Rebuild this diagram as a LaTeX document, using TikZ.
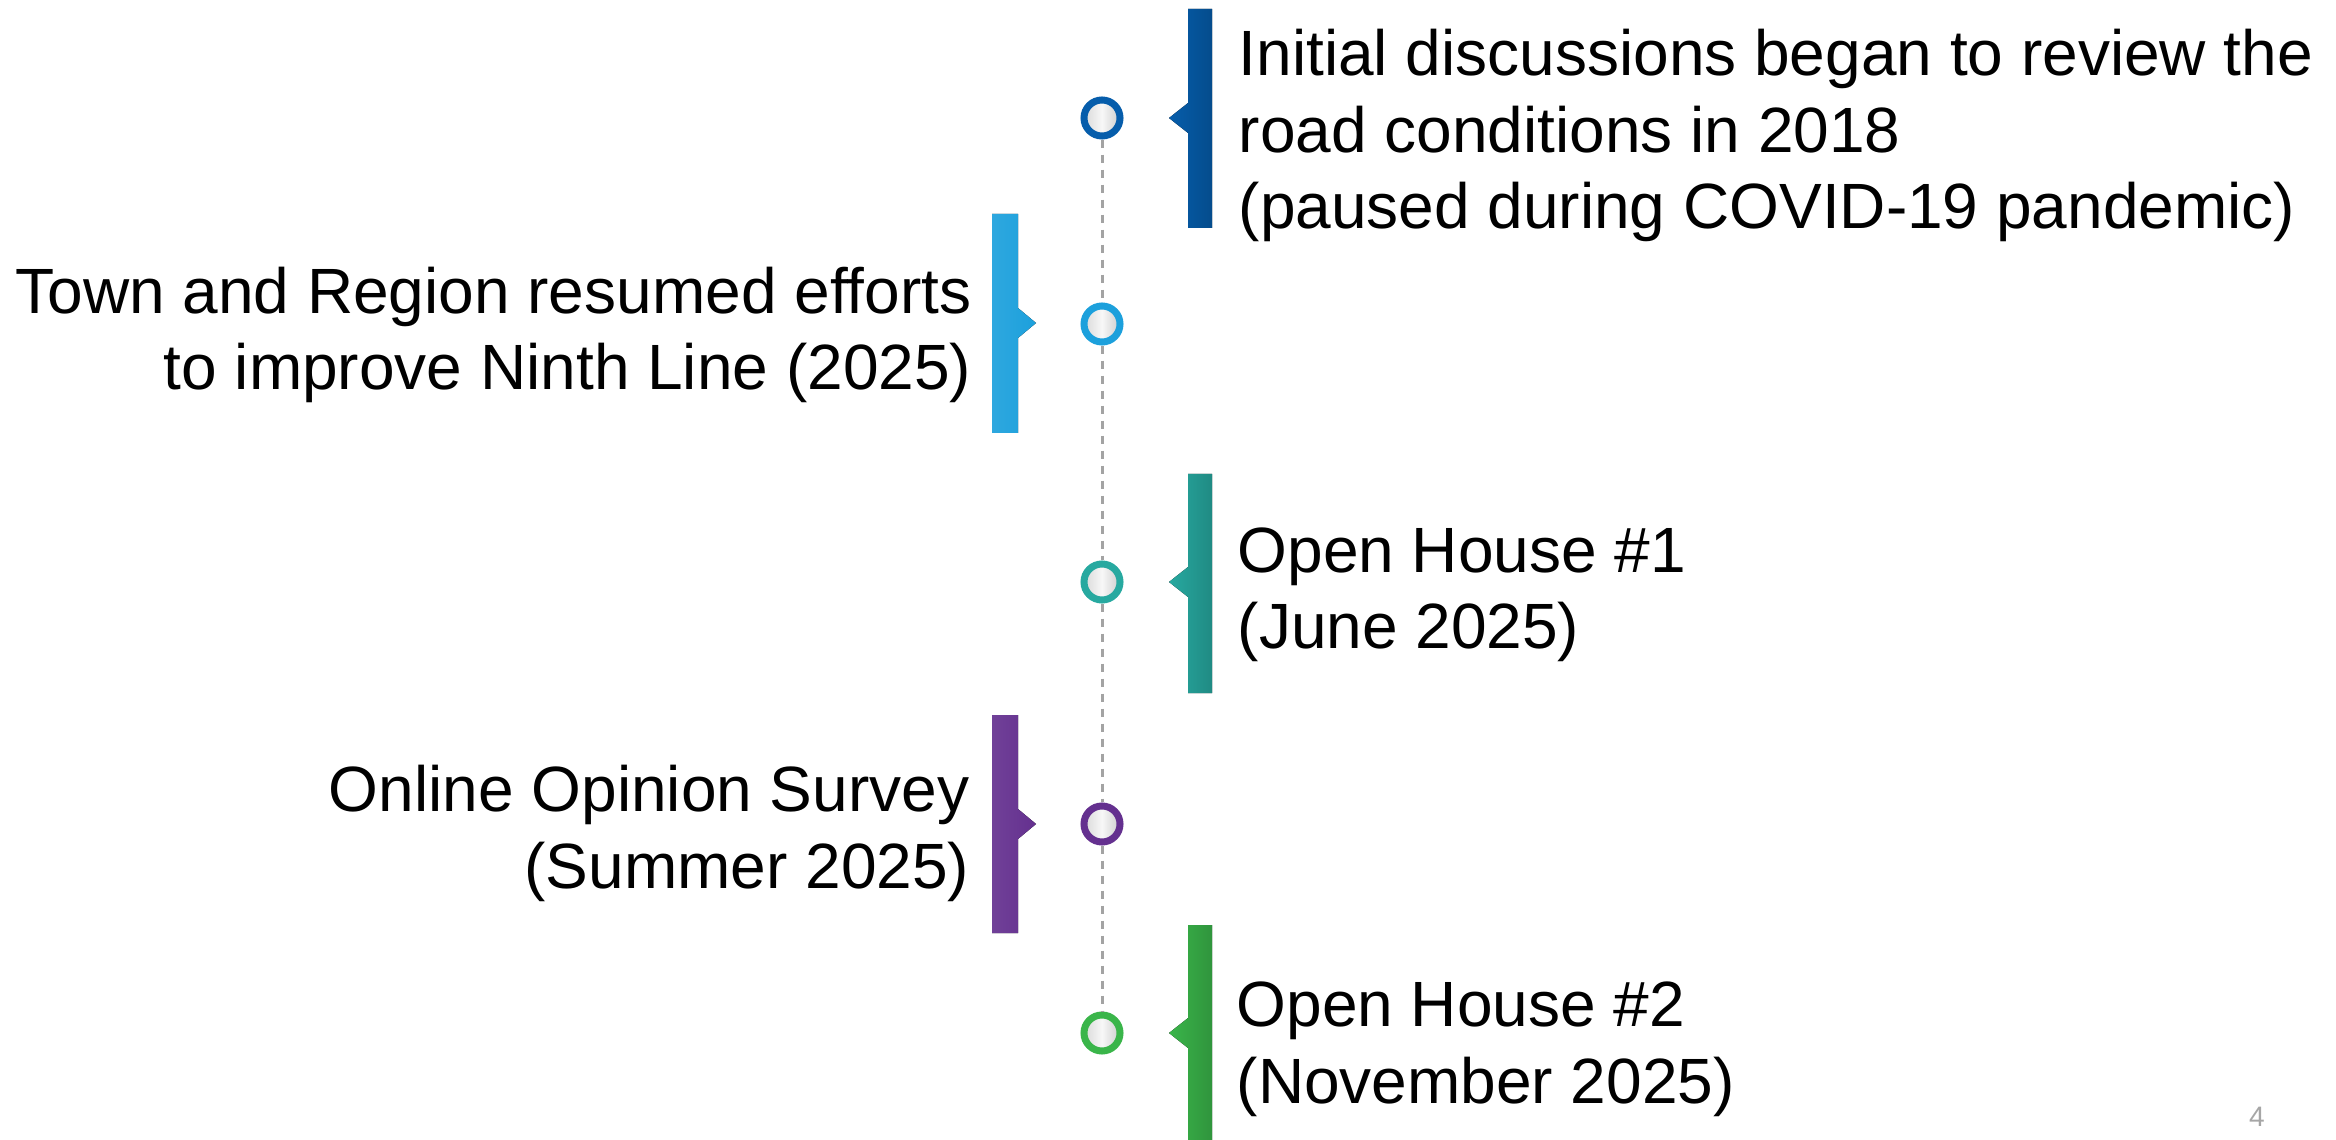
\documentclass[tikz,border=0pt]{standalone}
\usepackage{fontspec}
\setmainfont{Liberation Sans}
\definecolor{stepblue}{HTML}{065DAB}
\definecolor{stepsky}{HTML}{1CA0DC}
\definecolor{stepteal}{HTML}{27A9A0}
\definecolor{steppurple}{HTML}{64308F}
\definecolor{stepgreen}{HTML}{3AB54A}
\definecolor{railgray}{HTML}{A3A3A3}

\begin{document}
\begin{tikzpicture}[x=0.01cm, y=-0.01cm,
    dot/.style={circle, draw=#1, line width=0.07cm, minimum size=0.36cm, inner sep=0pt,
        left color=gray!30, right color=gray!40, middle color=gray!6},
    rail/.style={railgray, line width=0.03cm, dash pattern=on 0.08cm off 0.07cm},
    label/.style={inner sep=0pt, font=\fontsize{18.2}{21.8}\selectfont},
    pagenum/.style={inner sep=0pt, text=gray!70, font=\fontsize{8}{9}\selectfont}]
    \useasboundingbox (0,0) rectangle (2336,1140);

    % Bars on the right side (notch points left)
    \foreach \c/\top/\mid/\bot in {stepblue/9/118/228, stepteal/474/582/693, stepgreen/925/1033/1140}
        \fill[left color=\c, right color=\c!82!black]
            (1212,\top) -- (1188,\top) -- (1188,\mid-15) -- (1169,\mid)
            -- (1188,\mid+15) -- (1188,\bot) -- (1212,\bot) -- cycle;

    % Bars on the left side (notch points right)
    \foreach \c/\top/\mid/\bot in {stepsky/214/323/433, steppurple/715/824/933}
        \fill[left color=\c!92!white, right color=\c]
            (992,\top) -- (1018,\top) -- (1018,\mid-15) -- (1036,\mid)
            -- (1018,\mid+15) -- (1018,\bot) -- (992,\bot) -- cycle;

    % Timeline dots
    \node[dot=stepblue]   (d1) at (1102,118)  {};
    \node[dot=stepsky]    (d2) at (1102,324)  {};
    \node[dot=stepteal]   (d3) at (1102,582)  {};
    \node[dot=steppurple] (d4) at (1102,824)  {};
    \node[dot=stepgreen]  (d5) at (1102,1033) {};

    \foreach \a/\b in {d1/d2, d2/d3, d3/d4, d4/d5}
        \draw[rail] (\a) -- (\b);

    % Labels (base = last line)
    \node[label, anchor=base west, align=left] (t1) at (1238,229)
        {Initial discussions began to review the\\road conditions in 2018\\(paused during COVID-19 pandemic)};
    \node[label, anchor=base east, align=right] (t2) at (972,390)
        {Town and Region resumed efforts\\to improve Ninth Line (2025)};
    \node[label, anchor=base west, align=left] (t3) at (1237,649)
        {Open House \#1\\(June 2025)};
    \node[label, anchor=base east, align=right] (t4) at (970,888)
        {Online Opinion Survey\\(Summer 2025)};
    \node[label, anchor=base west, align=left] (t5) at (1236,1103)
        {Open House \#2\\(November 2025)};

    \node[pagenum, anchor=base] (pg) at (2257,1126) {4};
\end{tikzpicture}
\end{document}
